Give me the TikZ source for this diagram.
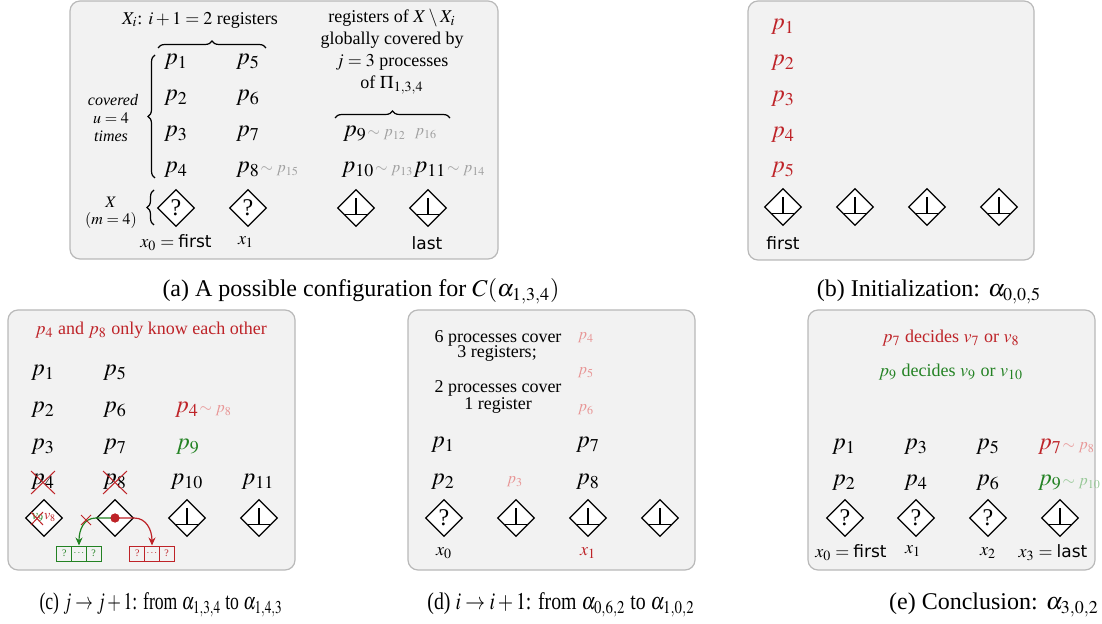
\documentclass[tikz,border=0pt]{standalone}
\usepackage{mathptmx}
\usepackage[no-math]{fontspec}
\setmainfont{Liberation Serif}
\newfontfamily\sff{DejaVu Sans}
\usetikzlibrary{shapes.geometric,decorations.pathreplacing,arrows.meta}
\definecolor{myred}{RGB}{190,35,40}
\definecolor{mygreen}{RGB}{35,130,35}
\definecolor{lightred}{RGB}{232,150,150}
\definecolor{lightgreen}{RGB}{150,200,150}
\definecolor{mygray}{RGB}{160,160,160}
\definecolor{panelfill}{RGB}{242,242,242}
\definecolor{panelborder}{RGB}{185,185,185}
\newcommand\sfw[1]{\mbox{\fontsize{8.5}{10}\sff #1}}
\tikzset{
 panel/.style={draw=panelborder, fill=panelfill, rounded corners=5pt, line width=0.6pt},
 reg/.style={diamond, draw, fill=white, minimum width=18.5pt, minimum height=18.5pt, inner sep=0pt, line width=0.6pt, font=\large},
 proc/.style={font=\large, inner sep=0pt},
 sproc/.style={font=\footnotesize, inner sep=0pt},
 anno/.style={font=\footnotesize, text=mygray, inner sep=0pt, anchor=base west},
 txt/.style={font=\small, align=center, inner sep=0pt},
 stxt/.style={font=\footnotesize, align=center, inner sep=0pt},
 captxt/.style={font=\large, inner sep=0pt},
 lbl/.style={font=\small, inner sep=0pt},
 brc/.style={decorate, decoration={brace, amplitude=3.5pt}, line width=0.6pt},
 cell/.style={draw, minimum width=7.35pt, minimum height=7.5pt, inner sep=0pt, font=\tiny, line width=0.5pt},
 crossline/.style={myred, line width=0.5pt},
 arr/.style={line width=0.6pt, -{Stealth[length=4pt,width=3.5pt]}},
}
\newcommand\botreg[2]{%
  \node[reg] (#1) at (#2) {};
  \draw[line width=0.7pt] ([shift={(0,-10)}]#1.center) -- ([shift={(0,6.7)}]#1.center);
  \draw[line width=0.6pt] ([shift={(-11.6,6.7)}]#1.center) -- ([shift={(11.6,6.7)}]#1.center);}
\newcommand\qreg[2]{\node[reg] (#1) at (#2) {?};}
\begin{document}
\begin{tikzpicture}[x=0.5pt,y=-0.5pt]
\useasboundingbox (0,0) rectangle (1102,624);
% ---------- panel (a)
\draw[panel] (70,1) rectangle (498,259);
\node[txt] (atitle) at (200,20) {$X_i$: $i+1=2$ registers};
\node[txt] (aright) at (392,52) {registers of $X\setminus X_i$\\globally covered by\\$j=3$ processes\\of $\Pi_{1,3,4}$};
\draw[brc] (158,48) -- (266,48);
\draw[brc] (335,118) -- (450,118);
\draw[brc] (155,178) -- (155,55);
\draw[brc] (154,225) -- (154,190);
\node[stxt] (cov) at (113,100) {\itshape covered};
\node[stxt] (u4) at (111,118) {$u=4$};
\node[stxt] (tim) at (111,136) {\itshape times};
\node[stxt] (aX) at (111,202) {$X$};
\node[stxt] (am) at (111,221) {$(m=4)$};
\node[proc] (a1) at (176,62) {$p_1$};
\node[proc] (a5) at (248,62) {$p_5$};
\node[proc] (a2) at (176,98) {$p_2$};
\node[proc] (a6) at (248,98) {$p_6$};
\node[proc] (a3) at (176,134) {$p_3$};
\node[proc] (a7) at (248,134) {$p_7$};
\node[proc] (a4) at (176,170) {$p_4$};
\node[proc] (a8) at (248,170) {$p_8$};
\node[anno] (a15) at (a8.base east) {$\sim p_{15}$};
\node[proc] (a9) at (355,134) {$p_9$};
\node[anno] (a12) at (a9.base east) {$\sim p_{12}$};
\node[sproc, text=mygray] (a16) at (426,134) {$p_{16}$};
\node[proc] (a10) at (358,170) {$p_{10}$};
\node[anno] (a13) at (a10.base east) {$\sim p_{13}$};
\node[proc] (a11) at (430,170) {$p_{11}$};
\node[anno] (a14) at (a11.base east) {$\sim p_{14}$};
\qreg{ax0}{176,208}
\qreg{ax1}{248,208}
\botreg{ax2}{356,208}
\botreg{ax3}{428,208}
\node[lbl] (lx0) at (176,243) {$x_0=\sfw{first}$};
\node[lbl] (lx1) at (246,242) {$x_1$};
\node[lbl] (lx3) at (427,243) {\sfw{last}};
\node[captxt] (capa) at (361,291) {(a) A possible configuration for $C(\alpha_{1,3,4})$};
% ---------- panel (b)
\draw[panel] (748,1) rectangle (1034,260);
\node[proc, text=myred] (b1) at (783,27) {$p_1$};
\node[proc, text=myred] (b2) at (783,63) {$p_2$};
\node[proc, text=myred] (b3) at (783,99) {$p_3$};
\node[proc, text=myred] (b4) at (783,135) {$p_4$};
\node[proc, text=myred] (b5) at (783,170) {$p_5$};
\botreg{bx0}{783,207}
\botreg{bx1}{855,207}
\botreg{bx2}{927,207}
\botreg{bx3}{999,207}
\node[lbl] (bfirst) at (783,243) {\sfw{first}};
\node[captxt] (capb) at (929,292) {(b) Initialization: $\alpha_{0,0,5}$};
% ---------- panel (c)
\draw[panel] (8,310) rectangle (295,570);
\node[txt, text=myred] (ctitle) at (151,330) {$p_4$ and $p_8$ only know each other};
\node[proc] (c1) at (43,373) {$p_1$};
\node[proc] (c5) at (115,373) {$p_5$};
\node[proc] (c2) at (43,410) {$p_2$};
\node[proc] (c6) at (115,410) {$p_6$};
\node[proc, text=myred] (c4r) at (187,410) {$p_4$};
\node[anno, text=lightred] (c8a) at (c4r.base east) {$\sim p_{8}$};
\node[proc] (c3) at (43,447) {$p_3$};
\node[proc] (c7) at (115,447) {$p_7$};
\node[proc, text=mygreen] (c9) at (188,447) {$p_9$};
\node[proc] (c4) at (43,482) {$p_4$};
\node[proc] (c8) at (115,482) {$p_8$};
\node[proc] (c10) at (187,482) {$p_{10}$};
\node[proc] (c11) at (258,482) {$p_{11}$};
\draw[crossline] (31,471) -- (55,494);
\draw[crossline] (31,494) -- (55,471);
\draw[crossline] (103,471) -- (127,494);
\draw[crossline] (103,494) -- (127,471);
\node[reg] (cx0) at (44,518) {};
\node[font=\scriptsize, inner sep=0pt] (cv) at (44,518) {\textcolor{mygreen}{$v_9$}\textcolor{myred}{$v_8$}};
\draw[crossline] (31,512) -- (43,525);
\draw[crossline] (31,525) -- (43,512);
\node[reg] (cx1) at (115,518) {};
\botreg{cx2}{187,518}
\botreg{cx3}{259,518}
\node[cell, draw=mygreen, text=mygreen] (g1) at (64.3,553.5) {?};
\node[cell, draw=mygreen, text=mygreen] (g2) at (79,553.5) {$\cdots$};
\node[cell, draw=mygreen, text=mygreen] (g3) at (93.7,553.5) {?};
\node[cell, draw=myred, text=myred] (r1) at (137.3,553.5) {?};
\node[cell, draw=myred, text=myred] (r2) at (152,553.5) {$\cdots$};
\node[cell, draw=myred, text=myred] (r3) at (166.7,553.5) {?};
\node[circle, fill=myred, inner sep=0pt, minimum size=4.5pt] (dot) at (115,518) {};
\draw[arr, mygreen] (dot.center) -- (cx1.west) .. controls +(-12,0) and +(0,-16) .. (g2.north);
\draw[arr, myred] (dot.center) -- (cx1.east) .. controls +(12,0) and +(0,-16) .. (r2.north);
\node[circle, fill=myred, inner sep=0pt, minimum size=4.5pt] (dot2) at (115,518) {};
\draw[crossline] (81,515) -- (91,525);
\draw[crossline] (81,525) -- (91,515);
\node[captxt] (capc) at (161,605) {\resizebox{121.5pt}{\height}{(c) $j\rightarrow j+1$: from $\alpha_{1,3,4}$ to $\alpha_{1,4,3}$}};
% ---------- panel (d)
\draw[panel] (408,310) rectangle (695,570);
\node[txt] (dt1) at (498,338) {6 processes cover};
\node[txt] (dt2) at (497,353) {3 registers;};
\node[txt] (dt3) at (498,388) {2 processes cover};
\node[txt] (dt4) at (498,405) {1 register};
\node[sproc, text=lightred] (d4) at (586,338) {$p_4$};
\node[sproc, text=lightred] (d5) at (586,373) {$p_5$};
\node[sproc, text=lightred] (d6) at (586,410) {$p_6$};
\node[proc] (d1) at (443,445) {$p_1$};
\node[proc] (d7) at (588,445) {$p_7$};
\node[proc] (d2) at (443,482) {$p_2$};
\node[sproc, text=lightred] (d3) at (515,482) {$p_3$};
\node[proc] (d8) at (588,482) {$p_8$};
\qreg{dx0}{444,518}
\botreg{dx1}{516,518}
\botreg{dx2}{588,518}
\botreg{dx3}{660,518}
\node[lbl] (dl0) at (444,553) {$x_0$};
\node[lbl, text=myred] (dl1) at (588,553) {$x_1$};
\node[captxt] (capd) at (561,605) {\resizebox{133.5pt}{\height}{(d) $i\rightarrow i+1$: from $\alpha_{0,6,2}$ to $\alpha_{1,0,2}$}};
% ---------- panel (e)
\draw[panel] (808,310) rectangle (1095,570);
\node[txt, text=myred] (et1) at (951,338) {$p_7$ decides $v_7$ or $v_8$};
\node[txt, text=mygreen] (et2) at (951,372) {$p_9$ decides $v_9$ or $v_{10}$};
\node[proc] (e1) at (844,447) {$p_1$};
\node[proc] (e3) at (916,447) {$p_3$};
\node[proc] (e5) at (988,447) {$p_5$};
\node[proc, text=myred] (e7) at (1050,447) {$p_7$};
\node[anno, text=lightred] (e8) at (e7.base east) {$\sim p_{8}$};
\node[proc] (e2) at (844,483) {$p_2$};
\node[proc] (e4) at (916,483) {$p_4$};
\node[proc] (e6) at (988,483) {$p_6$};
\node[proc, text=mygreen] (e9) at (1050,483) {$p_9$};
\node[anno, text=lightgreen] (e10) at (e9.base east) {$\sim p_{10}$};
\qreg{ex0}{845,518}
\qreg{ex1}{916,518}
\qreg{ex2}{988,518}
\botreg{ex3}{1060,518}
\node[lbl] (el0) at (851,553) {$x_0=\sfw{first}$};
\node[lbl] (el1) at (913,551) {$x_1$};
\node[lbl] (el2) at (988,553) {$x_2$};
\node[lbl] (el3) at (1053,553) {$x_3=\sfw{last}$};
\node[captxt] (cape) at (994,605) {(e) Conclusion: $\alpha_{3,0,2}$};
\end{tikzpicture}
\end{document}
